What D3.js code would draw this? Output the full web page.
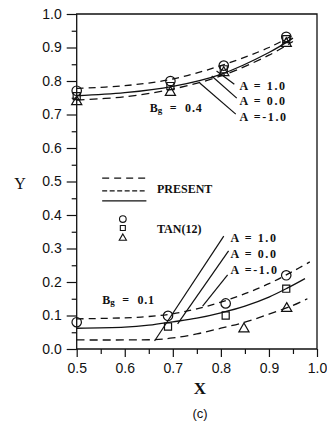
<!DOCTYPE html>
<html>
<head>
<meta charset="utf-8">
<script src="https://cdn.jsdelivr.net/npm/d3@7"></script>
<style>
  html, body { margin: 0; padding: 0; background: #fff; }
  svg { display: block; }
  .tick-label { font-family: "Liberation Sans", Arial, sans-serif; font-size: 14px; fill: #111; }
  .ann { font-family: "Liberation Serif", "Times New Roman", serif; font-weight: bold; font-size: 12px; fill: #111; }
  .axis-title { font-family: "Liberation Serif", "Times New Roman", serif; fill: #111; }
</style>
</head>
<body>
<svg id="chart" width="327" height="425"></svg>
<script>
// ---- axis ticks ----
const xTicks = [0.5, 0.6, 0.7, 0.8, 0.9, 1.0];
const xMinorTicks = [0.55, 0.65, 0.75, 0.85, 0.95];
const yTicks = [0.0, 0.1, 0.2, 0.3, 0.4, 0.5, 0.6, 0.7, 0.8, 0.9, 1.0];
const yMinorTicks = [0.05, 0.15, 0.25, 0.35, 0.45, 0.55, 0.65, 0.75, 0.85, 0.95];

// ---- PRESENT curves, Bg = 0.4 ----
const xCurve04 = [0.5, 0.6, 0.7, 0.8, 0.9, 0.95];
const present04_Ap1 = [0.778, 0.786, 0.806, 0.846, 0.900, 0.937];
const present04_A0  = [0.756, 0.765, 0.784, 0.820, 0.885, 0.928];
const present04_Am1 = [0.743, 0.753, 0.776, 0.815, 0.877, 0.918];

// ---- PRESENT curves, Bg = 0.1 ----
const xCurve01_Ap1 = [0.5, 0.6, 0.65, 0.7, 0.75, 0.8, 0.85, 0.9, 0.95, 0.985];
const present01_Ap1 = [0.090, 0.093, 0.097, 0.105, 0.120, 0.140, 0.165, 0.195, 0.232, 0.260];
const xCurve01_A0 = [0.5, 0.6, 0.65, 0.7, 0.75, 0.8, 0.85, 0.9, 0.94, 0.975];
const present01_A0  = [0.062, 0.065, 0.071, 0.081, 0.092, 0.108, 0.128, 0.155, 0.183, 0.210];
const xCurve01_Am1 = [0.5, 0.6, 0.66, 0.7, 0.75, 0.8, 0.85, 0.9, 0.95, 0.98];
const present01_Am1 = [0.027, 0.027, 0.028, 0.033, 0.045, 0.062, 0.080, 0.104, 0.130, 0.150];

// ---- TAN(12) data, Bg = 0.4 ----
const tanX04 = [0.5, 0.695, 0.806, 0.936];
const tan04_Ap1 = [0.771, 0.800, 0.846, 0.932];
const tan04_A0  = [0.755, 0.785, 0.835, 0.925];
const tan04_Am1 = [0.738, 0.766, 0.825, 0.912];

// ---- TAN(12) data, Bg = 0.1 ----
const tanX01_Ap1 = [0.5, 0.69, 0.81, 0.936];
const tan01_Ap1 = [0.080, 0.099, 0.136, 0.220];
const tanX01_A0 = [0.69, 0.81, 0.936];
const tan01_A0  = [0.067, 0.100, 0.180];
const tanX01_Am1 = [0.848, 0.937];
const tan01_Am1 = [0.060, 0.121];

// ---- labels ----
const aLabels = ["A = 1.0", "A = 0.0", "A =-1.0"];

const svg = d3.select("#chart");
const x = d3.scaleLinear().domain([0.5, 1.0]).range([76.7, 317]);
const y = d3.scaleLinear().domain([0, 1]).range([349, 14]);

const ink = "#111";
const dashA1 = "7,5";
const dashAm1 = "8,5";
const styles = [
  { dash: dashA1 },   // A = 1.0
  { dash: null },     // A = 0.0
  { dash: dashAm1 }   // A = -1.0
];

// ---- frame ----
const frame = svg.append("g").attr("fill", "none").attr("stroke", ink).attr("stroke-width", 1.3);
frame.append("path").attr("d", `M${x(0.5)},${y(1)}H${x(1)}V${y(0)}H${x(0.5)}Z`);

// ---- axes (ticks outward) ----
const yAxis = d3.axisLeft(y).tickValues(yTicks).tickFormat(d3.format(".1f")).tickSize(10).tickPadding(5);
const gy = svg.append("g").attr("transform", `translate(${x(0.5)},0)`).call(yAxis);
gy.select(".domain").remove();
gy.selectAll("line").attr("stroke", ink).attr("stroke-width", 1.2);
gy.selectAll("text").attr("class", "tick-label").attr("font-size", null).attr("font-family", null);

const yMinor = d3.axisLeft(y).tickValues(yMinorTicks).tickFormat("").tickSize(5);
const gym = svg.append("g").attr("transform", `translate(${x(0.5)},0)`).call(yMinor);
gym.select(".domain").remove();
gym.selectAll("line").attr("stroke", ink).attr("stroke-width", 1.2);

const xAxis = d3.axisBottom(x).tickValues(xTicks).tickFormat(d3.format(".1f")).tickSize(8).tickPadding(6);
const gx = svg.append("g").attr("transform", `translate(0,${y(0)})`).call(xAxis);
gx.select(".domain").remove();
gx.selectAll("line").attr("stroke", ink).attr("stroke-width", 1.2);
gx.selectAll("text").attr("class", "tick-label").attr("font-size", null).attr("font-family", null);

const xMinor = d3.axisBottom(x).tickValues(xMinorTicks).tickFormat("").tickSize(5);
const gxm = svg.append("g").attr("transform", `translate(0,${y(0)})`).call(xMinor);
gxm.select(".domain").remove();
gxm.selectAll("line").attr("stroke", ink).attr("stroke-width", 1.2);

// ---- axis titles ----
svg.append("text").attr("class", "axis-title").attr("x", 20).attr("y", 183)
  .attr("text-anchor", "middle").attr("dominant-baseline", "central").attr("font-size", 16).text("Y");
svg.append("text").attr("class", "axis-title").attr("x", 200).attr("y", 388)
  .attr("text-anchor", "middle").attr("dominant-baseline", "central").attr("font-size", 17).attr("font-weight", "bold").text("X");
svg.append("text").attr("x", 200).attr("y", 413)
  .attr("text-anchor", "middle").attr("dominant-baseline", "central")
  .attr("font-family", "Liberation Sans, Arial, sans-serif").attr("font-size", 13).attr("fill", ink).text("(c)");

// ---- curves ----
const line = d3.line().x(d => x(d[0])).y(d => y(d[1])).curve(d3.curveCatmullRom.alpha(0.5));
const curveSets = [
  [xCurve04, present04_Ap1, 0], [xCurve04, present04_A0, 1], [xCurve04, present04_Am1, 2],
  [xCurve01_Ap1, present01_Ap1, 0], [xCurve01_A0, present01_A0, 1], [xCurve01_Am1, present01_Am1, 2]
];
const gCurves = svg.append("g").attr("fill", "none").attr("stroke", ink).attr("stroke-width", 1.3);
curveSets.forEach(([xs, ys, s]) => {
  gCurves.append("path")
    .attr("d", line(xs.map((v, i) => [v, ys[i]])))
    .attr("stroke-dasharray", styles[s].dash);
});

// ---- markers ----
const symType = [d3.symbolCircle, d3.symbolSquare, d3.symbolTriangle];
const symSize = [70, 50, 45];
const gPts = svg.append("g").attr("fill", "none").attr("stroke", ink).attr("stroke-width", 1.2);
function drawPts(xs, ys, s, big) {
  xs.forEach((v, i) => {
    gPts.append("path")
      .attr("d", d3.symbol().type(symType[s]).size(symSize[s] * big)())
      .attr("transform", `translate(${x(v)},${y(ys[i])})`);
  });
}
drawPts(tanX04, tan04_Ap1, 0, 1);
drawPts(tanX04, tan04_A0, 1, 1);
drawPts(tanX04, tan04_Am1, 2, 1);
drawPts(tanX01_Ap1, tan01_Ap1, 0, 1);
drawPts(tanX01_A0, tan01_A0, 1, 1);
drawPts(tanX01_Am1, tan01_Am1, 2, 1);

// ---- annotations: leader lines and A labels ----
const gAnn = svg.append("g");
const leaders04 = [[0.828, 0.790, 0.791, 0.830], [0.833, 0.749, 0.781, 0.815], [0.831, 0.701, 0.756, 0.794]];
const labelPos04 = [[0.839, 0.785], [0.839, 0.740], [0.839, 0.693]];
const leaders01 = [[0.806, 0.337, 0.662, 0.024], [0.816, 0.293, 0.710, 0.075], [0.814, 0.221, 0.762, 0.128]];
const labelPos01 = [[0.820, 0.331], [0.820, 0.284], [0.820, 0.236]];

[[leaders04, labelPos04], [leaders01, labelPos01]].forEach(([leaders, pos]) => {
  leaders.forEach(l => {
    gAnn.append("line")
      .attr("x1", x(l[0])).attr("y1", y(l[1])).attr("x2", x(l[2])).attr("y2", y(l[3]))
      .attr("stroke", ink).attr("stroke-width", 1.2);
  });
  pos.forEach((p, i) => {
    gAnn.append("text").attr("class", "ann")
      .attr("x", x(p[0])).attr("y", y(p[1]))
      .attr("dominant-baseline", "central")
      .attr("font-size", 13)
      .style("white-space", "pre")
      .attr("letter-spacing", 1.6)
      .text(aLabels[i]);
  });
});

// ---- Bg labels ----
function bgLabel(px, py, val) {
  const t = gAnn.append("text").attr("class", "ann")
    .attr("x", x(px)).attr("y", y(py)).attr("dominant-baseline", "central")
    .style("white-space", "pre");
  t.append("tspan").text("B");
  t.append("tspan").attr("font-size", 9).attr("dy", 2).text("g");
  t.append("tspan").attr("dy", -2).attr("letter-spacing", 0.8).text("  =  " + val);
}
bgLabel(0.652, 0.719, "0.4");
bgLabel(0.553, 0.146, "0.1");

// ---- legend ----
const gLeg = svg.append("g");
const legLineY = [0.510, 0.472, 0.442];
legLineY.forEach((ly, i) => {
  gLeg.append("line")
    .attr("x1", x(0.553)).attr("x2", x(0.645)).attr("y1", y(ly)).attr("y2", y(ly))
    .attr("stroke", ink).attr("stroke-width", 1.3)
    .attr("stroke-dasharray", i === 0 ? "7,5" : i === 1 ? "5,2.5" : null);
});
gLeg.append("text").attr("class", "ann").attr("x", x(0.667)).attr("y", y(0.478))
  .attr("dominant-baseline", "central").attr("font-size", 12).text("PRESENT");
const legSymY = [0.388, 0.361, 0.331];
legSymY.forEach((sy, i) => {
  gLeg.append("path")
    .attr("d", d3.symbol().type(symType[i]).size(symSize[i] * 0.5)())
    .attr("transform", `translate(${x(0.596)},${y(sy)})`)
    .attr("fill", "none").attr("stroke", ink).attr("stroke-width", 1.1);
});
gLeg.append("text").attr("class", "ann").attr("x", x(0.667)).attr("y", y(0.358))
  .attr("dominant-baseline", "central").attr("font-size", 13).text("TAN(12)");
</script>
</body>
</html>
